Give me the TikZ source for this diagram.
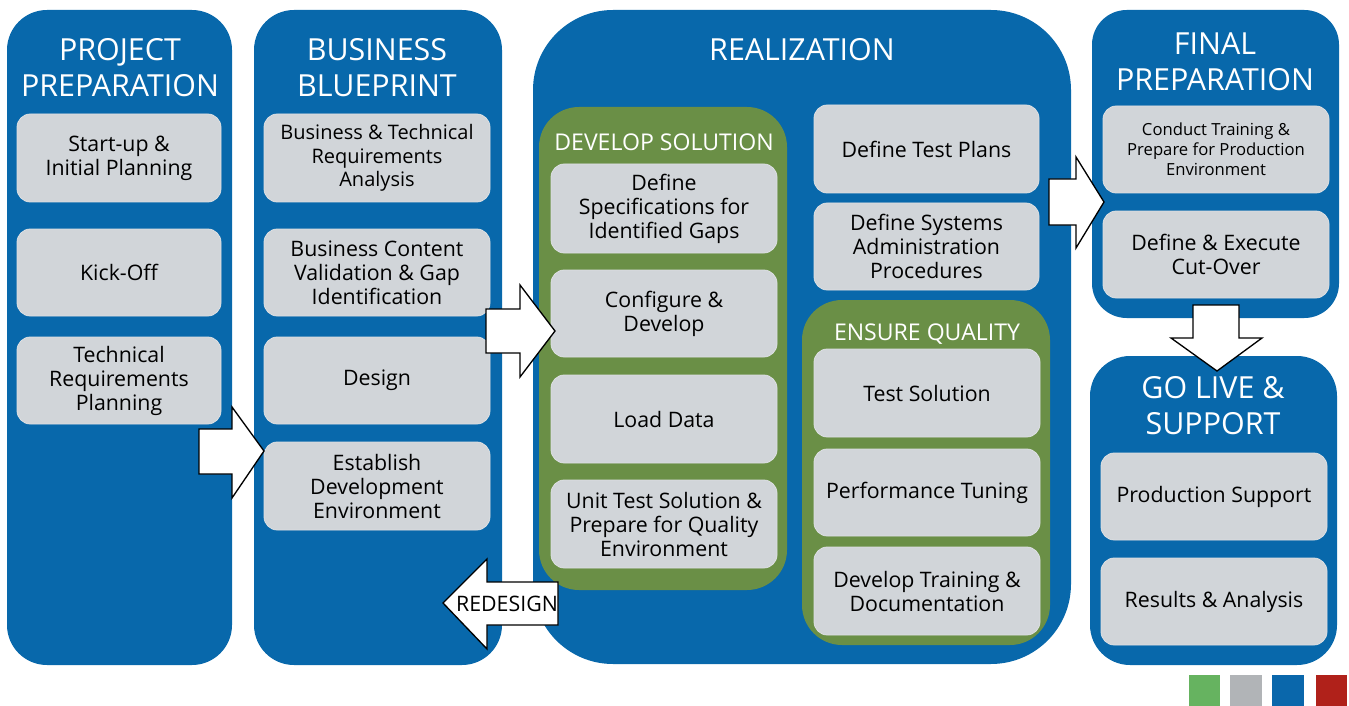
\documentclass[tikz,border=0pt]{standalone}
\usepackage{fontspec}
\setmainfont{Open Sans}
\usetikzlibrary{fit}
\definecolor{sapblue}{HTML}{0868AB}
\definecolor{sapgreen}{HTML}{6A8F46}
\definecolor{boxgray}{HTML}{D1D5D9}
\definecolor{boxedge}{HTML}{DDE0E3}
\definecolor{leggreen}{HTML}{66B360}
\definecolor{leggray}{HTML}{B1B4B7}
\definecolor{legblue}{HTML}{0A67AB}
\definecolor{legred}{HTML}{B0211A}
\newcommand{\fsz}[2]{\fontsize{#1}{#2}\selectfont}
\tikzset{
  phase/.style={fill=sapblue, inner sep=0pt, rounded corners=30pt},
  greenbox/.style={fill=sapgreen, inner sep=0pt, rounded corners=30pt},
  gbox/.style={fill=boxgray, draw=boxedge, line width=0.6pt, inner sep=0pt, rounded corners=10pt},
  gtext/.style={align=center, text=black, inner sep=0pt, font=\fsz{16}{18}},
  stext/.style={gtext, font=\fsz{15}{17.5}},
  ttext/.style={gtext, font=\fsz{12.5}{15}},
  ptitle/.style={text=white, align=center, font=\fsz{22.8}{27}, inner sep=0pt},
  stitle/.style={text=white, align=center, font=\fsz{17.3}{20}, inner sep=0pt, anchor=base},
  blockarrow/.style={fill=white, draw=black, line width=1pt, line join=miter},
}
\begin{document}
\begin{tikzpicture}[x=0.75pt,y=-0.75pt]
\useasboundingbox (0,0) rectangle (1349,706);
% phase containers
\node[phase, fit={(7,10) (232,665)}] (pp) {};
\node[phase, fit={(254,10) (502,665)}] (bb) {};
\node[phase, rounded corners=60pt, fit={(533,10) (1071,664)}] (re) {};
\node[phase, rounded corners=26pt, fit={(1092,10) (1339,318)}] (fp) {};
\node[phase, rounded corners=30pt, fit={(1090,356) (1337,665)}] (gl) {};
% green sub-containers
\node[greenbox, fit={(539,107) (787,590)}] (ds) {};
\node[greenbox, fit={(802,300) (1050,645)}] (eq) {};
% titles
\node[ptitle] (ppt) at (120,68) {PROJECT\\PREPARATION};
\node[ptitle] (bbt) at (377,68) {BUSINESS\\BLUEPRINT};
\node[ptitle, anchor=base] (ret) at (802,61) {REALIZATION};
\node[ptitle] (fpt) at (1215,62) {FINAL\\PREPARATION};
\node[ptitle] (glt) at (1213,406) {GO LIVE \&\\SUPPORT};
\node[stitle] (dst) at (664,151) {DEVELOP SOLUTION};
\node[stitle] (eqt) at (927,340) {ENSURE QUALITY};
% project preparation
\node[gbox, fit={(17,114) (221,202)}, label={[gtext]center:Start-up \&\\Initial Planning}] (p1) {};
\node[gbox, fit={(17,229) (221,316)}, label={[gtext]center:Kick-Off}] (p2) {};
\node[gbox, fit={(17,337) (221,424)}, label={[gtext]center:Technical\\Requirements\\Planning}] (p3) {};
% business blueprint
\node[gbox, fit={(264,114) (490,202)}, label={[stext]center:Business \& Technical\\Requirements\\Analysis}] (b1) {};
\node[gbox, fit={(264,229) (490,316)}, label={[gtext]center:Business Content\\Validation \& Gap\\Identification}] (b2) {};
\node[gbox, fit={(264,337) (490,424)}, label={[gtext]center:Design}] (b3) {};
\node[gbox, fit={(264,442) (490,530)}, label={[gtext]center:Establish\\Development\\Environment}] (b4) {};
% develop solution
\node[gbox, fit={(551,164) (777,253)}, label={[gtext]center:Define\\Specifications for\\Identified Gaps}] (d1) {};
\node[gbox, fit={(551,270) (777,357)}, label={[gtext]center:Configure \&\\Develop}] (d2) {};
\node[gbox, fit={(551,375) (777,463)}, label={[gtext]center:Load Data}] (d3) {};
\node[gbox, fit={(551,480) (777,568)}, label={[gtext]center:Unit Test Solution \&\\Prepare for Quality\\Environment}] (d4) {};
% realization right
\node[gbox, fit={(814,105) (1039,193)}, label={[gtext]center:Define Test Plans}] (r1) {};
\node[gbox, fit={(814,203) (1039,290)}, label={[gtext]center:Define Systems\\Administration\\Procedures}] (r2) {};
% ensure quality
\node[gbox, fit={(814,349) (1040,437)}, label={[gtext]center:Test Solution}] (q1) {};
\node[gbox, fit={(814,449) (1040,536)}, label={[gtext]center:Performance Tuning}] (q2) {};
\node[gbox, fit={(814,547) (1040,635)}, label={[gtext]center:Develop Training \&\\Documentation}] (q3) {};
% final preparation
\node[gbox, fit={(1103,106) (1329,193)}, label={[ttext]center:Conduct Training \&\\Prepare for Production\\Environment}] (f1) {};
\node[gbox, fit={(1103,211) (1329,298)}, label={[gtext]center:Define \& Execute\\Cut-Over}] (f2) {};
% go live
\node[gbox, fit={(1101,453) (1327,540)}, label={[gtext]center:Production Support}] (g1) {};
\node[gbox, fit={(1101,558) (1327,645)}, label={[gtext]center:Results \& Analysis}] (g2) {};
% block arrows
\draw[blockarrow] (199,429) -- (232,429) -- (232,407) -- (264,451) -- (232,498) -- (232,474) -- (199,474) -- cycle;
\draw[blockarrow] (486,309) -- (520,309) -- (520,285) -- (555,331) -- (520,377) -- (520,353) -- (486,353) -- cycle;
\draw[blockarrow] (1049,179) -- (1076,179) -- (1076,157) -- (1104,202) -- (1076,248) -- (1076,225) -- (1049,225) -- cycle;
\draw[blockarrow] (1193,305) -- (1239,305) -- (1239,338) -- (1262,338) -- (1217,371) -- (1171,338) -- (1193,338) -- cycle;
\draw[blockarrow] (558,582) -- (487,582) -- (487,559) -- (443,603) -- (487,649) -- (487,625) -- (558,625) -- cycle;
\node[text=black, font=\fsz{16}{18}, inner sep=0pt] (rd) at (507,604) {REDESIGN};
% legend
\fill[leggreen] (1189,675) rectangle (1220,706);
\fill[leggray] (1230,675) rectangle (1262,706);
\fill[legblue] (1272,675) rectangle (1304,706);
\fill[legred] (1316,675) rectangle (1347,706);
\end{tikzpicture}
\end{document}
